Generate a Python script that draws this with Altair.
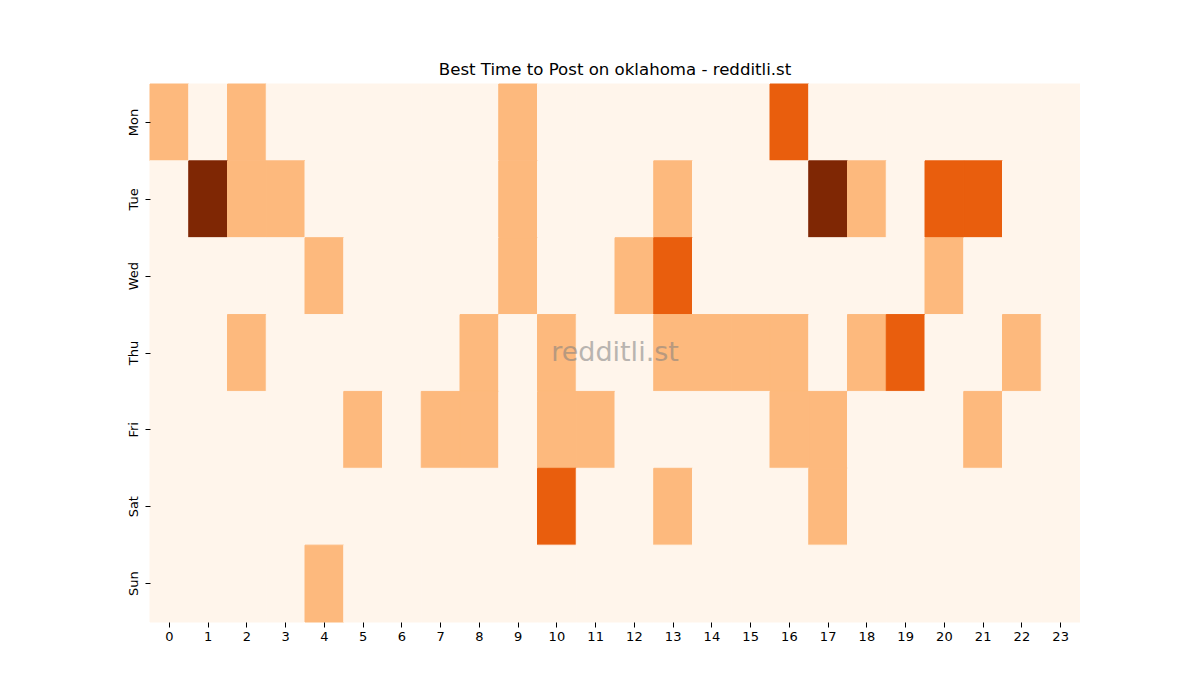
import altair as alt
import pandas as pd

days = ["Mon", "Tue", "Wed", "Thu", "Fri", "Sat", "Sun"]
hours = list(range(24))

# posting score per hour, one row per day
mon = [1, 0, 1, 0, 0, 0, 0, 0, 0, 1, 0, 0, 0, 0, 0, 0, 2, 0, 0, 0, 0, 0, 0, 0]
tue = [0, 3, 1, 1, 0, 0, 0, 0, 0, 1, 0, 0, 0, 1, 0, 0, 0, 3, 1, 0, 2, 2, 0, 0]
wed = [0, 0, 0, 0, 1, 0, 0, 0, 0, 1, 0, 0, 1, 2, 0, 0, 0, 0, 0, 0, 1, 0, 0, 0]
thu = [0, 0, 1, 0, 0, 0, 0, 0, 1, 0, 1, 0, 0, 1, 1, 1, 1, 0, 1, 2, 0, 0, 1, 0]
fri = [0, 0, 0, 0, 0, 1, 0, 1, 1, 0, 1, 1, 0, 0, 0, 0, 1, 1, 0, 0, 0, 1, 0, 0]
sat = [0, 0, 0, 0, 0, 0, 0, 0, 0, 0, 2, 0, 0, 1, 0, 0, 0, 1, 0, 0, 0, 0, 0, 0]
sun = [0, 0, 0, 0, 1, 0, 0, 0, 0, 0, 0, 0, 0, 0, 0, 0, 0, 0, 0, 0, 0, 0, 0, 0]

levels = [0, 1, 2, 3]
level_colors = ["#fff5eb", "#fdb97d", "#e95e0d", "#7f2704"]

rows = []
for day, values in zip(days, [mon, tue, wed, thu, fri, sat, sun]):
    for hour, value in zip(hours, values):
        rows.append({"day": day, "hour": hour, "value": value})
df = pd.DataFrame(rows)

font = "DejaVu Sans"
color_scale = alt.Scale(domain=levels, range=level_colors)

heat = alt.Chart(df).mark_rect(strokeWidth=1, opacity=1, fillOpacity=1, strokeOpacity=1).encode(
    x=alt.X(
        "hour:O",
        sort=hours,
        title=None,
        axis=alt.Axis(labelAngle=0, domain=False, tickSize=5, tickColor="black",
                      labelColor="black", labelFontSize=13, labelFont=font,
                      labelPadding=3),
    ),
    y=alt.Y(
        "day:O",
        sort=days,
        title=None,
        axis=alt.Axis(labelAngle=-90, domain=False, tickSize=5, tickColor="black",
                      labelColor="black", labelFontSize=13, labelFont=font,
                      labelPadding=5, labelAlign="center", labelBaseline="bottom"),
    ),
    color=alt.Color("value:O", scale=color_scale, legend=None),
    stroke=alt.Stroke("value:O", scale=color_scale, legend=None),
)

watermark = alt.Chart(pd.DataFrame({"label": ["redditli.st"]})).mark_text(
    font=font, fontSize=27, color="gray", opacity=0.55, align="center",
    baseline="middle",
).encode(
    x=alt.value(465),
    y=alt.value(269),
    text="label:N",
)

chart = (heat + watermark).properties(
    width=930,
    height=538,
    title=alt.TitleParams(
        "Best Time to Post on oklahoma - redditli.st",
        font=font, fontSize=16.6, fontWeight="normal", color="black", offset=5,
    ),
    autosize=alt.AutoSizeParams(type="none"),
    padding={"left": 142, "top": 76, "right": 0, "bottom": 40},
).configure_view(stroke=None).configure_scale(bandPaddingInner=0, bandPaddingOuter=0)

chart.save("out.html", embed_options={"renderer": "svg", "actions": False})
